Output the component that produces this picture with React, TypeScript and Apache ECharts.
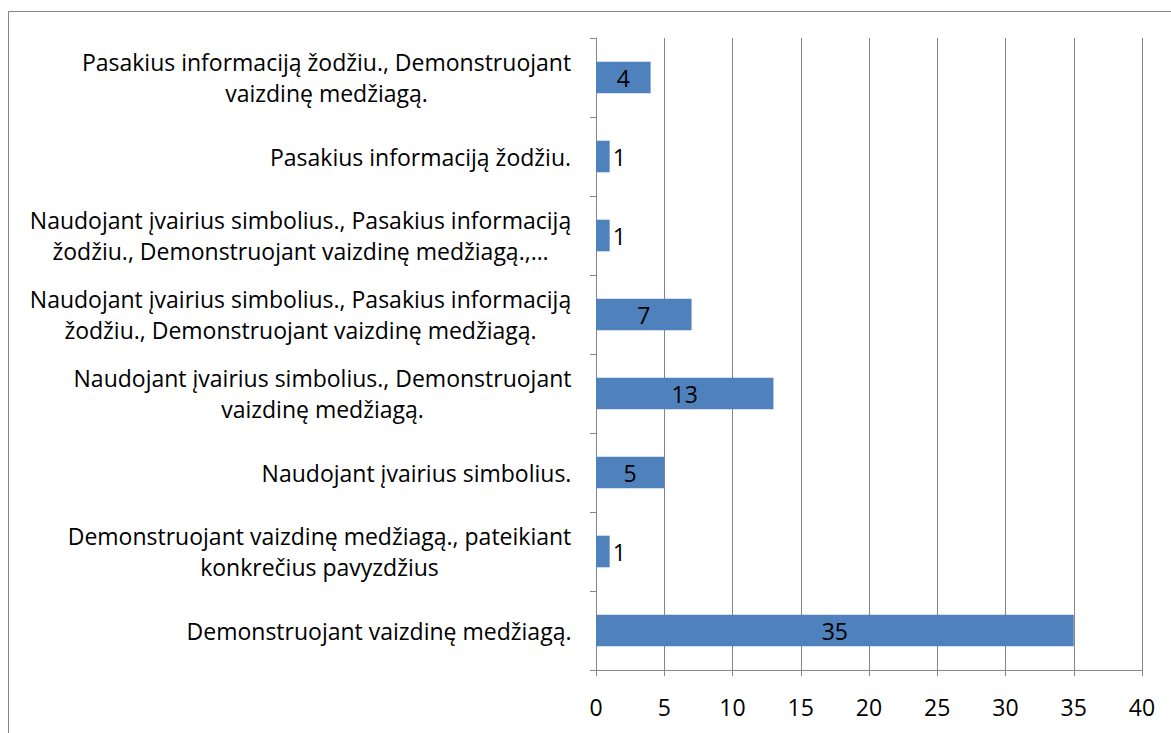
import React, { useEffect, useRef } from "react";
import * as echarts from "echarts";

const categories: string[] = [
  "Demonstruojant vaizdinę medžiagą.",
  "Demonstruojant vaizdinę medžiagą., pateikiant\nkonkrečius pavyzdžius",
  "Naudojant įvairius simbolius.",
  "Naudojant įvairius simbolius., Demonstruojant\nvaizdinę medžiagą.",
  "Naudojant įvairius simbolius., Pasakius informaciją\nžodžiu., Demonstruojant vaizdinę medžiagą.",
  "Naudojant įvairius simbolius., Pasakius informaciją\nžodžiu., Demonstruojant vaizdinę medžiagą.,…",
  "Pasakius informaciją žodžiu.",
  "Pasakius informaciją žodžiu., Demonstruojant\nvaizdinę medžiagą.",
];
const values: number[] = [35, 1, 5, 13, 7, 1, 1, 4];
const xTicks = { min: 0, max: 40, interval: 5 };

const FONT_FAMILY = "'Open Sans', sans-serif";
const LINE_HEIGHT = 31;

function measure(text: string, size: number): number {
  const c = document.createElement("canvas");
  const ctx = c.getContext("2d")!;
  ctx.font = `${size}px ${FONT_FAMILY}`;
  return ctx.measureText(text).width;
}

export default function App() {
  const ref = useRef<HTMLDivElement>(null);
  useEffect(() => {
    document.body.style.margin = "0";
    // fit font so the longest label line is as wide as in the reference (~545px)
    const refLine = "Naudojant įvairius simbolius., Pasakius informaciją";
    const FONT_SIZE = Math.round((545 / measure(refLine, 100)) * 100 * 2) / 2;
    const chart = echarts.init(ref.current!, undefined, { renderer: "svg" });
    const rich: Record<string, any> = {};
    categories.forEach((c, i) => {
      const w = Math.max(...c.split("\n").map((l) => measure(l, FONT_SIZE)));
      rich["w" + i] = {
        width: Math.ceil(w) + 1,
        align: "center",
        fontSize: FONT_SIZE,
        fontFamily: FONT_FAMILY,
        lineHeight: LINE_HEIGHT,
        color: "#000",
      };
    });
    chart.setOption({
      animation: false,
      backgroundColor: "#fff",
      graphic: [
        {
          type: "rect",
          shape: { x: 8.5, y: 11.5, width: 1400, height: 1000 },
          style: { fill: "none", stroke: "#868686", lineWidth: 1 },
          silent: true,
        },
      ],
      grid: { left: 596, right: 29, top: 38, bottom: 63, containLabel: false },
      xAxis: {
        type: "value",
        min: xTicks.min,
        max: xTicks.max,
        interval: xTicks.interval,
        axisLine: { show: true, lineStyle: { color: "#868686", width: 1 } },
        axisTick: { show: true, length: 6, lineStyle: { color: "#868686" } },
        splitLine: { show: true, lineStyle: { color: "#868686", width: 1 } },
        axisLabel: {
          color: "#000",
          fontSize: FONT_SIZE,
          fontFamily: FONT_FAMILY,
          margin: 25,
        },
      },
      yAxis: {
        type: "category",
        data: categories,
        axisLine: { show: true, lineStyle: { color: "#868686", width: 1 } },
        axisTick: { show: true, length: 6, lineStyle: { color: "#868686" } },
        axisLabel: {
          align: "right",
          margin: 24,
          interval: 0,
          fontSize: FONT_SIZE,
          fontFamily: FONT_FAMILY,
          lineHeight: LINE_HEIGHT,
          color: "#000",
          rich,
          formatter: (value: string, idx: number) =>
            value
              .split("\n")
              .map((l) => `{w${idx}|${l}}`)
              .join("\n"),
        },
      },
      series: [
        {
          type: "bar",
          barWidth: "40%",
          data: values.map((v) => ({
            value: v,
            label: {
              show: true,
              position: v > 1 ? "inside" : "right",
              distance: 3,
              color: "#000",
              fontSize: FONT_SIZE,
              fontFamily: FONT_FAMILY,
            },
          })),
          itemStyle: { color: "#4F81BD" },
        },
      ],
    });
    return () => chart.dispose();
  }, []);
  return <div ref={ref} style={{ width: 1171, height: 733 }} />;
}
